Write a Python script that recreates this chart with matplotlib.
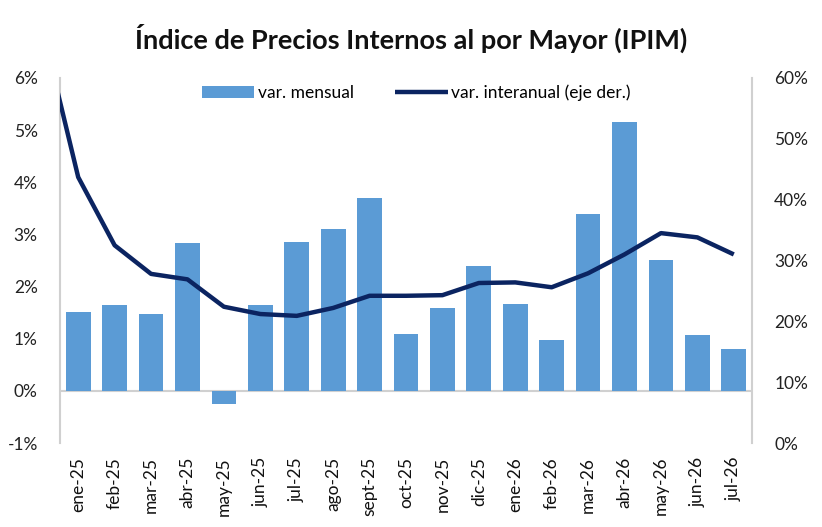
import matplotlib
matplotlib.use("Agg")
import matplotlib.pyplot as plt
import numpy as np
from matplotlib.ticker import FuncFormatter

plt.rcParams['font.family'] = ['Lato', 'DejaVu Sans']

categories = ["ene-25", "feb-25", "mar-25", "abr-25", "may-25", "jun-25", "jul-25",
              "ago-25", "sept-25", "oct-25", "nov-25", "dic-25", "ene-26", "feb-26",
              "mar-26", "abr-26", "may-26", "jun-26", "jul-26"]
var_mensual = [1.51, 1.65, 1.48, 2.84, -0.26, 1.65, 2.86, 3.10, 3.70, 1.09,
               1.59, 2.39, 1.67, 0.98, 3.39, 5.15, 2.51, 1.07, 0.80]
# previous month (dic-24), drawn clipped at the left axis
interanual_prev = 68.5
var_interanual = [43.7, 32.5, 27.8, 26.9, 22.4, 21.2, 20.9, 22.2, 24.2, 24.2,
                  24.3, 26.3, 26.4, 25.6, 27.9, 31.0, 34.5, 33.8, 31.0]

bar_color = "#5B9BD5"
line_color = "#0B2461"
grey = "#D0D0D0"

fig = plt.figure(figsize=(8.22, 5.27), dpi=100)
ax = fig.add_axes([60/822, 1-443/527, (752-60)/822, (443-78)/527])
ax2 = ax.twinx()

x = np.arange(len(categories))
bars = ax.bar(x, var_mensual, width=0.68, color=bar_color, zorder=2, label="var. mensual")
ax.axhline(0, color=grey, lw=1.5, zorder=1)

lx = np.arange(-1, len(categories))
ly = [interanual_prev] + var_interanual
line, = ax2.plot(lx, ly, color=line_color, lw=3.2, solid_joinstyle='round',
                 solid_capstyle='butt', label="var. interanual (eje der.)")

ax.set_xlim(-0.5, len(categories) - 0.5)
ax.set_ylim(-1, 6)
ax2.set_ylim(0, 60)
ax.set_yticks(range(-1, 7))
ax2.set_yticks(range(0, 61, 10))
ax.yaxis.set_major_formatter(FuncFormatter(lambda v, p: f"{v:.0f}%"))
ax2.yaxis.set_major_formatter(FuncFormatter(lambda v, p: f"{v:.0f}%"))

ax.set_xticks(x)
ax.set_xticklabels(categories, rotation=90, fontsize=12.5)
ax.tick_params(axis='x', length=0, pad=10)
ax.tick_params(axis='y', length=0, pad=16, labelsize=12.5, colors="#222222")
ax2.tick_params(axis='y', length=0, pad=16, labelsize=12.5, colors="#222222")
ax.tick_params(axis='x', colors="#111111")

for a in (ax, ax2):
    for s in ("top", "bottom"):
        a.spines[s].set_visible(False)
    a.set_facecolor("none")
ax2.spines["left"].set_visible(False)
ax.spines["right"].set_visible(False)
ax.spines["left"].set_color(grey)
ax.spines["left"].set_linewidth(1.5)
ax2.spines["right"].set_color(grey)
ax2.spines["right"].set_linewidth(1.5)

ax2.set_zorder(ax.get_zorder() + 1)

leg = ax2.legend([bars, line], ["var. mensual", "var. interanual (eje der.)"],
                 loc="upper center", bbox_to_anchor=(0.515, 1.025), ncol=2,
                 frameon=False, fontsize=12.5, handlelength=3.0, columnspacing=2.4,
                 handletextpad=0.2)

fig.text(0.5, 1-38/527, "Índice de Precios Internos al por Mayor (IPIM)",
         ha="center", va="center", fontsize=19.5, fontweight="bold", color="#111111")

fig.savefig("out.png", dpi=100)
